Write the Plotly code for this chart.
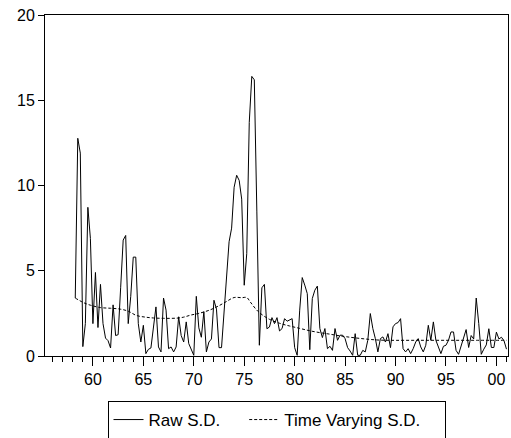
import plotly.graph_objects as go

# Quarterly raw S.D., starting 1958Q2
start_year = 1958.25
raw_sd = [
    3.40, 12.77, 11.9, 0.55, 1.9, 8.72, 6.9, 1.9, 4.9, 1.67,
    4.2, 1.9, 1.05, 0.9, 0.47, 3.0, 1.2, 1.25, 4.0, 6.8,
    7.07, 1.9, 3.5, 5.8, 5.8, 1.9, 0.82, 1.8, 0.14, 0.39,
    0.47, 1.6, 2.88, 0.53, 0.24, 3.4, 2.69, 0.43, 0.53, 0.24,
    0.53, 2.3, 1.2, 0.82, 2.0, 0.73, 0.33, 0.04, 3.5, 1.65,
    1.1, 2.6, 0.24, 0.82, 1.0, 3.27, 2.75, 0.49, 0.49, 2.5,
    4.7, 6.7, 7.5, 9.9, 10.6, 10.3, 9.2, 4.15, 6.0, 13.7,
    16.4, 16.2, 8.5, 0.63, 4.0, 4.2, 1.6, 1.7, 2.25, 1.90,
    2.25, 1.47, 1.61, 2.19, 2.04, 2.10, 2.19, 0.49, 0.04, 2.69,
    4.6, 4.16, 3.66, 0.37, 3.37, 3.86, 4.1, 1.61, 1.08, 1.61,
    0.43, 0.57, 0.33, 1.61, 0.92, 1.22, 1.22, 1.02, 0.49, 0.29,
    0.04, 1.31, 0.04, 0.04, 0.33, 0.24, 0.92, 2.49, 1.61, 1.02,
    0.24, 1.02, 1.12, 0.82, 1.31, 0.49, 1.71, 1.90, 1.96, 2.19,
    0.43, 0.24, 0.43, 0.14, 0.43, 0.82, 1.02, 0.53, 0.24, 0.63,
    1.80, 0.92, 2.0, 0.92, 0.53, 0.14, 0.57, 0.63, 0.92, 1.41,
    1.41, 0.33, 0.1, 0.6, 1.0, 1.55, 0.5, 1.2, 1.0, 3.4,
    1.9, 0.1, 0.4, 0.65, 1.6, 0.5, 0.5, 1.4, 1.0, 1.1,
    0.9, 0.4,
]
raw_years = [start_year + 0.25 * i for i in range(len(raw_sd))]

# Time varying S.D. read at selected dates
tv_years = [1958.25, 1959.1, 1959.75, 1960.75, 1961.75, 1962.7, 1963.5, 1964.3,
            1965.2, 1966.0, 1967.0, 1968.3, 1969.0, 1969.7, 1970.5, 1971.6,
            1972.5, 1973.25, 1974.0, 1974.75, 1975.25, 1975.6, 1976.4, 1977.5,
            1978.5, 1979.5, 1980.5, 1981.5, 1982.5, 1983.5, 1984.5, 1985.5,
            1986.5, 1987.5, 1988.5, 1989.5, 1992.0, 1995.0, 1998.0, 2001.0]
tv_sd = [3.40, 3.12, 2.98, 2.84, 2.80, 2.75, 2.63, 2.38,
         2.28, 2.23, 2.21, 2.22, 2.28, 2.40, 2.50, 2.70,
         2.95, 3.20, 3.43, 3.42, 3.43, 3.17, 2.60, 2.15,
         1.92, 1.76, 1.62, 1.48, 1.37, 1.28, 1.18, 1.10,
         1.03, 0.97, 0.93, 0.92, 0.92, 0.92, 0.92, 0.92]

tick_years = [1960, 1965, 1970, 1975, 1980, 1985, 1990, 1995, 2000]
tick_labels = ["60", "65", "70", "75", "80", "85", "90", "95", "00"]

FONT = "Liberation Sans, Arial, sans-serif"
PAD = "\u00a0" * 4

fig = go.Figure()
fig.add_trace(go.Scatter(x=raw_years, y=raw_sd, mode="lines", name="Raw S.D." + PAD,
                         line=dict(color="black", width=1)))
fig.add_trace(go.Scatter(x=tv_years, y=tv_sd, mode="lines", name="Time Varying S.D." + PAD,
                         line=dict(color="black", width=1, dash="3px,2px", shape="spline")))

fig.update_layout(
    width=511, height=438,
    margin=dict(l=45, r=3, t=15, b=82, autoexpand=False),
    paper_bgcolor="white", plot_bgcolor="white",
    font=dict(family=FONT, size=16, color="black"),
    showlegend=True,
    legend=dict(orientation="h", x=0.5, xanchor="center",
                yref="container", y=1 - 401 / 438, yanchor="top",
                bordercolor="black", borderwidth=1, font=dict(size=17),
                itemwidth=30, tracegroupgap=0),
    xaxis=dict(range=[1955.25, 2001.15], showgrid=False, zeroline=False,
               showline=True, linecolor="black", linewidth=1, mirror=True,
               tickmode="array", tickvals=tick_years, ticktext=tick_labels,
               ticks="outside", ticklen=9, tickcolor="black",
               minor=dict(dtick=1, tick0=1956, ticks="outside", ticklen=5, tickcolor="black"),
               tickfont=dict(size=16)),
    yaxis=dict(range=[0, 20], showgrid=False, zeroline=False,
               showline=True, linecolor="black", linewidth=1, mirror=True,
               tickvals=[0, 5, 10, 15, 20], ticks="outside", ticklen=6, tickcolor="black",
               tickfont=dict(size=16)),
)

fig.write_html("out.html")
